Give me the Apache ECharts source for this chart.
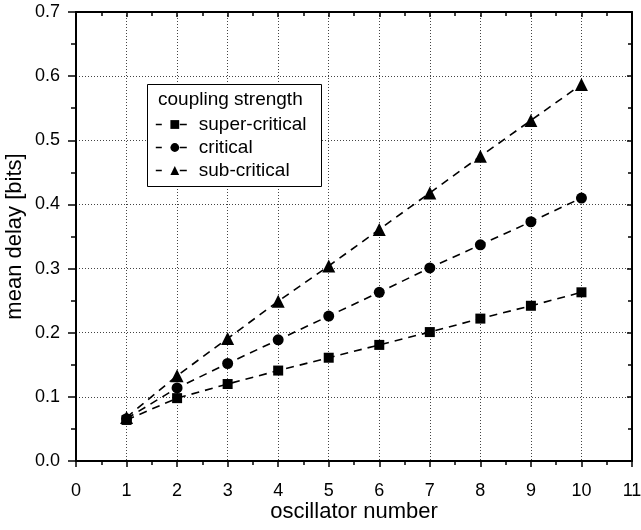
<!DOCTYPE html>
<html>
<head>
<meta charset="utf-8">
<script src="https://cdn.jsdelivr.net/npm/echarts@6/dist/echarts.min.js"></script>
<style>
html, body { margin: 0; padding: 0; background: #fff; }
#chart { width: 641px; height: 530px; }
</style>
</head>
<body>
<div id="chart"></div>
<script>
// data
const oscillators = [1, 2, 3, 4, 5, 6, 7, 8, 9, 10];
const superCritical = [0.064, 0.098, 0.120, 0.141, 0.161, 0.181, 0.201, 0.222, 0.242, 0.263];
const critical = [0.066, 0.114, 0.152, 0.189, 0.226, 0.263, 0.301, 0.337, 0.373, 0.410];
const subCritical = [0.068, 0.133, 0.191, 0.249, 0.304, 0.361, 0.418, 0.475, 0.531, 0.587];
const seriesNames = ['super-critical', 'critical', 'sub-critical'];

const font = 'Liberation Sans, Arial, sans-serif';
const black = '#000';

const pairs = (ys) => oscillators.map((x, i) => [x, ys[i]]);

const chart = echarts.init(document.getElementById('chart'));

const lineSeries = (name, ys, symbol, size) => ({
  name: name,
  type: 'line',
  data: pairs(ys),
  symbol: symbol,
  symbolSize: size,
  itemStyle: { color: black },
  lineStyle: { color: black, width: 1.6, type: [8, 6] },
  animation: false,
  z: 5,
});

// bottom/left axes: labelled, ticks outside; top/right: ticks inside only
const tickStyle = { color: black, width: 1.5 };
const axisLineStyle = { show: true, onZero: false, lineStyle: { color: black, width: 2 } };
const gridLine = { show: true, lineStyle: { color: '#444', width: 1, type: [1, 2] } };

const option = {
  backgroundColor: '#fff',
  textStyle: { fontFamily: font },
  grid: { left: 76, right: 9, top: 12, bottom: 69, containLabel: false, outerBoundsMode: 'none' },
  graphic: [
    {
      type: 'rect',
      shape: { x: 147.5, y: 84.5, width: 174, height: 102 },
      style: { fill: '#fff', stroke: black, lineWidth: 1 },
      z: 10,
    },
    {
      type: 'text',
      left: 158,
      top: 90,
      style: { text: 'coupling strength', font: '19px ' + font, fill: black },
      z: 11,
    },
  ],
  legend: {
    orient: 'vertical',
    left: 150,
    top: 110,
    itemWidth: 38,
    itemHeight: 11,
    itemGap: 4,
    data: seriesNames,
    lineStyle: { type: [6, 18, 7, 100], width: 1.6 },
    textStyle: { fontSize: 19, lineHeight: 19, color: black, fontFamily: font },
    z: 12,
  },
  xAxis: [
    {
      type: 'value',
      min: 0,
      max: 11,
      interval: 1,
      name: 'oscillator number',
      nameLocation: 'middle',
      nameGap: 40,
      nameMoveOverlap: false,
      nameTextStyle: { fontSize: 22, color: black },
      axisLine: axisLineStyle,
      axisTick: { show: true, length: 6, lineStyle: tickStyle },
      minorTick: { show: true, splitNumber: 2, length: 4, lineStyle: tickStyle },
      axisLabel: { fontSize: 18, color: black, margin: 21 },
      splitLine: gridLine,
    },
    {
      type: 'value',
      position: 'top',
      min: 0,
      max: 11,
      interval: 1,
      axisLine: axisLineStyle,
      axisTick: { show: true, inside: true, length: 5, lineStyle: tickStyle },
      minorTick: { show: true, splitNumber: 2, length: 4, lineStyle: tickStyle },
      axisLabel: { show: false },
      splitLine: { show: false },
    },
  ],
  yAxis: [
    {
      type: 'value',
      min: 0,
      max: 0.7,
      interval: 0.1,
      name: 'mean delay [bits]',
      nameLocation: 'middle',
      nameGap: 50,
      nameMoveOverlap: false,
      nameTextStyle: { fontSize: 22, color: black },
      axisLine: axisLineStyle,
      axisTick: { show: true, length: 8, lineStyle: tickStyle },
      minorTick: { show: true, splitNumber: 2, length: 5, lineStyle: tickStyle },
      axisLabel: { fontSize: 18, color: black, margin: 16, formatter: (v) => v.toFixed(1) },
      splitLine: gridLine,
    },
    {
      type: 'value',
      position: 'right',
      min: 0,
      max: 0.7,
      interval: 0.1,
      axisLine: axisLineStyle,
      axisTick: { show: true, inside: true, length: 5, lineStyle: tickStyle },
      minorTick: { show: true, splitNumber: 2, length: 4, lineStyle: tickStyle },
      axisLabel: { show: false },
      splitLine: { show: false },
    },
  ],
  series: [
    lineSeries(seriesNames[0], superCritical, 'rect', 10),
    lineSeries(seriesNames[1], critical, 'circle', 11),
    lineSeries(seriesNames[2], subCritical, 'triangle', 13),
  ],
};

chart.setOption(option);
</script>
</body>
</html>
